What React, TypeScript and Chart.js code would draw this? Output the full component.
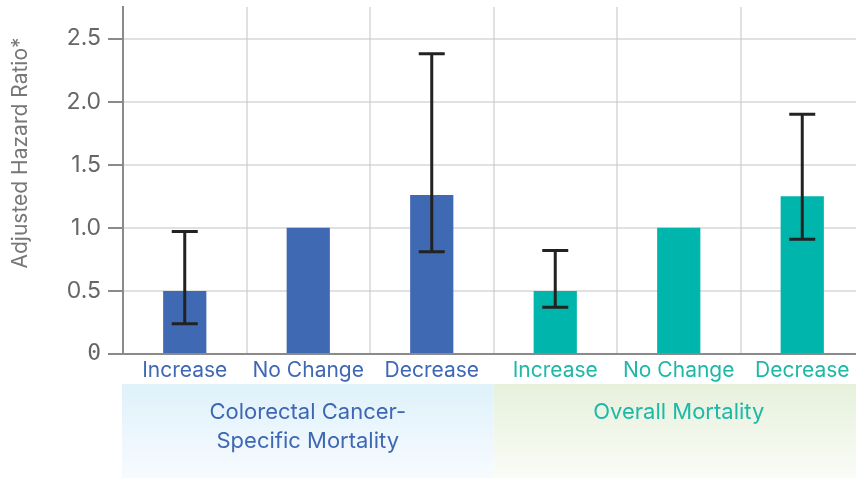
import React, { useEffect, useRef } from 'react';
import { Chart, registerables } from 'chart.js';

Chart.register(...registerables);

const categories = ['Increase', 'No Change', 'Decrease', 'Increase', 'No Change', 'Decrease'];
const hazardRatios = [0.5, 1.0, 1.26, 0.5, 1.0, 1.25];
const ciLower: (number | null)[] = [0.24, null, 0.81, 0.37, null, 0.91];
const ciUpper: (number | null)[] = [0.97, null, 2.38, 0.82, null, 1.9];
const groupLabels = [['Colorectal Cancer-', 'Specific Mortality'], ['Overall Mortality']];
const groupSizes = [3, 3];
const yTicks = [0, 0.5, 1, 1.5, 2, 2.5];
const yTickLabels = ['0', '0.5', '1.0', '1.5', '2.0', '2.5'];
const yTitle = 'Adjusted Hazard Ratio*';

const BLUE = '#3f69b3';
const TEAL = '#00b5ab';
const BLUE_TEXT = '#3f68b4';
const TEAL_TEXT = '#1db8a7';
const groupColors = [BLUE, TEAL];
const groupTextColors = [BLUE_TEXT, TEAL_TEXT];
const bandTop = [['#dff1fa', '#f7fbff'], ['#e6f1dc', '#fafcf7']];

const barColors: string[] = [];
const labelColors: string[] = [];
groupSizes.forEach((n, g) => {
  for (let i = 0; i < n; i++) {
    barColors.push(groupColors[g]);
    labelColors.push(groupTextColors[g]);
  }
});

const overlayPlugin = {
  id: 'overlay',
  beforeDraw(chart: any) {
    const ctx = chart.ctx;
    const ca = chart.chartArea;
    const cw = (ca.right - ca.left) / categories.length;
    const top = ca.bottom + 30;
    const bottom = chart.height - 2;
    let start = 0;
    groupSizes.forEach((n, g) => {
      const l = ca.left + start * cw - (g === 0 ? 1 : 0);
      const r = ca.left + (start + n) * cw;
      const grad = ctx.createLinearGradient(0, top, 0, bottom);
      grad.addColorStop(0, bandTop[g][0]);
      grad.addColorStop(1, bandTop[g][1]);
      ctx.save();
      ctx.fillStyle = grad;
      ctx.fillRect(l, top, r - l, bottom - top);
      ctx.fillStyle = groupTextColors[g];
      ctx.font = '22px Inter';
      ctx.textAlign = 'center';
      ctx.textBaseline = 'middle';
      const cx = (l + r) / 2;
      groupLabels[g].forEach((line, i) => {
        ctx.fillText(line, cx, top + 28 + i * 29);
      });
      ctx.restore();
      start += n;
    });
    // y title
    ctx.save();
    ctx.translate(21, 153);
    ctx.rotate(-Math.PI / 2);
    ctx.fillStyle = '#777777';
    ctx.font = '21px Inter';
    ctx.textAlign = 'center';
    ctx.textBaseline = 'middle';
    ctx.fillText(yTitle, 0, 0);
    ctx.restore();
  },
  afterDraw(chart: any) {
    const ctx = chart.ctx;
    const x = chart.scales.x;
    const y = chart.scales.y;
    ctx.save();
    ctx.strokeStyle = '#222222';
    ctx.lineWidth = 3;
    categories.forEach((_, i) => {
      const lo = ciLower[i];
      const hi = ciUpper[i];
      if (lo == null || hi == null) return;
      const px = x.getPixelForValue(i);
      const yl = y.getPixelForValue(lo);
      const yh = y.getPixelForValue(hi);
      ctx.beginPath();
      ctx.moveTo(px, yl);
      ctx.lineTo(px, yh);
      ctx.moveTo(px - 13, yl);
      ctx.lineTo(px + 13, yl);
      ctx.moveTo(px - 13, yh);
      ctx.lineTo(px + 13, yh);
      ctx.stroke();
    });
    ctx.restore();
  },
};

export default function App() {
  const ref = useRef<HTMLCanvasElement | null>(null);
  useEffect(() => {
    if (!ref.current) return;
    Chart.defaults.font.family = 'Inter';
    const chart = new Chart(ref.current, {
      type: 'bar',
      data: {
        labels: categories,
        datasets: [
          {
            data: hazardRatios,
            backgroundColor: barColors,
            barPercentage: 0.35,
            categoryPercentage: 1,
          },
        ],
      },
      options: {
        responsive: false,
        animation: false,
        devicePixelRatio: 1,
        layout: { padding: { top: 7, right: 2, left: 0, bottom: 0 } },
        plugins: { legend: { display: false }, tooltip: { enabled: false } },
        scales: {
          x: {
            z: 1,
            grid: {
              color: 'rgba(200,200,200,0.55)',
              lineWidth: 2,
              drawTicks: false,
              offset: true,
            },
            border: { color: '#8a8a8a', width: 2 },
            ticks: {
              color: labelColors,
              font: { size: 21, family: 'Inter' },
              padding: 4,
              maxRotation: 0,
              autoSkip: false,
            },
            afterFit: (s: any) => {
              s.height = 126;
              s.paddingLeft = 0;
              s.paddingRight = 0;
            },
          },
          y: {
            z: 1,
            min: 0,
            max: 2.75,
            grid: {
              color: 'rgba(200,200,200,0.55)',
              lineWidth: 2,
              tickColor: '#8a8a8a',
              tickLength: 15,
            },
            border: { color: '#8a8a8a', width: 2 },
            afterBuildTicks: (s: any) => {
              s.ticks = yTicks.map((v) => ({ value: v }));
            },
            ticks: {
              color: '#666666',
              padding: 7,
              font: (c: any) =>
                c.tick && c.tick.value === 0
                  ? { size: 23, family: 'DejaVu Sans Mono' }
                  : { size: 23, family: 'Inter' },
              callback: (v: any) => {
                const i = yTicks.indexOf(Number(v));
                return i >= 0 ? yTickLabels[i] : '';
              },
            },
            afterFit: (s: any) => {
              s.width = 123;
              s.paddingTop = 0;
              s.paddingBottom = 0;
            },
          },
        },
      },
      plugins: [overlayPlugin],
    });
    return () => chart.destroy();
  }, []);
  return (
    <div
      style={{
        position: 'fixed',
        left: 0,
        top: 0,
        width: 856,
        height: 480,
        overflow: 'hidden',
        background: '#ffffff',
      }}
    >
      <canvas ref={ref} width={866} height={480} style={{ display: 'block', width: 866, height: 480 }} />
    </div>
  );
}
